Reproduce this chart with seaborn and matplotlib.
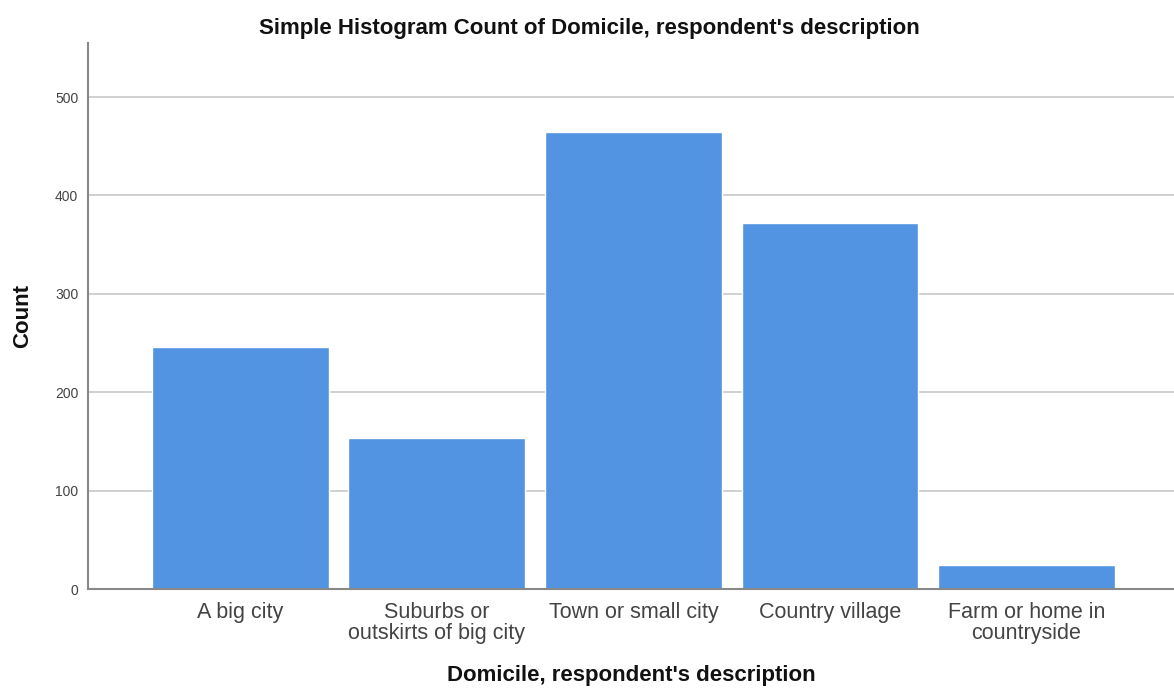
import pandas as pd
import matplotlib
matplotlib.use("Agg")
import matplotlib.pyplot as plt
import seaborn as sns

# categories and counts
categories = ["A big city", "Suburbs or\noutskirts of big city", "Town or small city",
              "Country village", "Farm or home in\ncountryside"]
counts = [246, 154, 465, 372, 24]
y_ticks = [0, 100, 200, 300, 400, 500]

df = pd.DataFrame({"domicile": categories, "count": counts})

sns.set_style("white")
plt.rcParams["font.family"] = ["Liberation Sans", "DejaVu Sans"]

fig = plt.figure(figsize=(11.74, 6.93), dpi=100)
ax = fig.add_axes([0.075, 0.15, 0.925, 0.788])

ax.grid(axis="y", color="#c8c8c8", linewidth=1.2)
ax.set_axisbelow(True)
sns.barplot(data=df, x="domicile", y="count", color="#5294e2", saturation=1,
            width=0.9, ax=ax, zorder=2)

ax.set_xlim(-0.774, 4.75)
ax.set_ylim(0, 555)
ax.set_yticks(y_ticks)
ax.tick_params(axis="y", labelsize=10, length=0, pad=7, labelcolor="#444444")
ax.tick_params(axis="x", labelsize=15.5, length=0, pad=9, labelcolor="#444444")
for lbl in ax.get_xticklabels():
    lbl.set_linespacing(1.05)

for side in ["top", "right"]:
    ax.spines[side].set_visible(False)
for side in ["left", "bottom"]:
    ax.spines[side].set_color("#888888")
    ax.spines[side].set_linewidth(1.5)

ax.set_ylabel("Count", fontsize=16, fontweight="bold", labelpad=16, color="#111111")
ax.set_xlabel("Domicile, respondent's description", fontsize=16, fontweight="bold",
              labelpad=15, color="#111111")
fig.suptitle("Simple Histogram Count of Domicile, respondent's description",
             fontsize=16, fontweight="bold", x=0.502, y=0.959, va="center", color="#111111")

fig.savefig("out.png", dpi=100)
